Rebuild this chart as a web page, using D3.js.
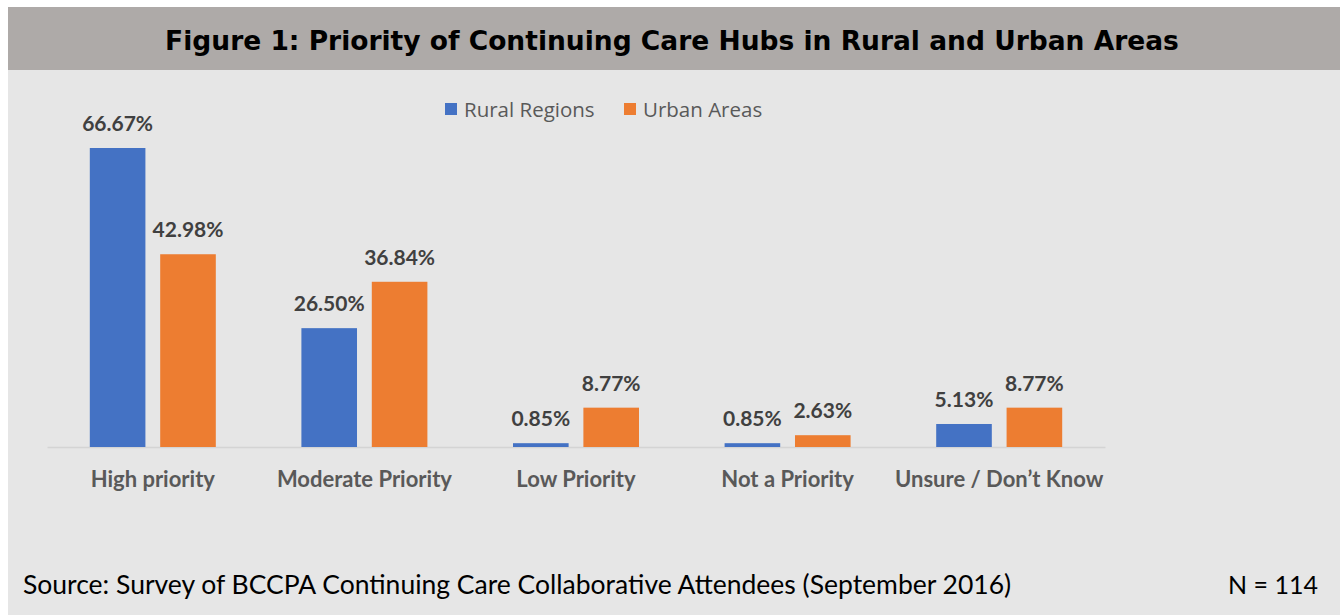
<!DOCTYPE html>
<html>
<head>
<meta charset="utf-8">
<script src="https://cdn.jsdelivr.net/npm/d3@7"></script>
<style>
  body { margin: 0; background: #fff; }
</style>
</head>
<body>
<svg id="chart"></svg>
<script>
var width = 1340;
var height = 615;

var categories = ['High priority', 'Moderate Priority', 'Low Priority', 'Not a Priority', 'Unsure / Don\u2019t Know'];
var seriesNames = ['Rural Regions', 'Urban Areas'];
var rural = [66.67, 26.50, 0.85, 0.85, 5.13];
var urban = [42.98, 36.84, 8.77, 2.63, 8.77];
var colors = ['#4472c4', '#ed7d31'];

var svg = d3.select('#chart')
  .attr('width', width)
  .attr('height', height);

// panel + header
svg.append('rect')
  .attr('x', 8).attr('y', 7)
  .attr('width', width - 8).attr('height', height - 7)
  .attr('fill', '#e6e6e6');

svg.append('rect')
  .attr('x', 8).attr('y', 7)
  .attr('width', width - 8).attr('height', 63)
  .attr('fill', '#aeaaa8');

svg.append('text')
  .attr('x', 672)
  .attr('y', 50)
  .attr('text-anchor', 'middle')
  .style('font-family', 'DejaVu Sans')
  .style('font-weight', 'bold')
  .style('font-size', '26.5px')
  .attr('fill', '#000')
  .text('Figure 1: Priority of Continuing Care Hubs in Rural and Urban Areas');

var baseline = 447;

var x0 = d3.scaleBand()
  .domain(categories)
  .range([47, 1105]);

var x1 = d3.scaleBand()
  .domain(seriesNames)
  .range([x0.bandwidth() / 2 - 63, x0.bandwidth() / 2 + 63])
  .paddingInner(0.21);

var y = d3.scaleLinear()
  .domain([0, 66.67])
  .range([baseline, 148]);

var data = categories.map((c, i) => ({
  category: c,
  values: [
    { series: seriesNames[0], value: rural[i] },
    { series: seriesNames[1], value: urban[i] }
  ]
}));

// axis
svg.append('g')
  .attr('transform', 'translate(0,' + baseline + ')')
  .call(d3.axisBottom(x0).tickSize(0).tickPadding(24))
  .call(g => g.select('.domain').attr('stroke', '#d4d4d4').attr('stroke-width', 1.5))
  .selectAll('text')
  .attr('dy', '0.71em')
  .style('font-family', 'Lato')
  .style('font-weight', 'bold')
  .style('font-size', '22px')
  .attr('fill', '#595959');

var groups = svg.selectAll('.group')
  .data(data)
  .enter()
  .append('g')
  .attr('class', 'group')
  .attr('transform', d => 'translate(' + x0(d.category) + ',0)');

groups.selectAll('rect')
  .data(d => d.values)
  .enter()
  .append('rect')
  .attr('x', d => x1(d.series))
  .attr('y', d => y(d.value))
  .attr('width', x1.bandwidth())
  .attr('height', d => baseline - y(d.value))
  .attr('fill', (d, i) => colors[i]);

groups.selectAll('.val')
  .data(d => d.values)
  .enter()
  .append('text')
  .attr('class', 'val')
  .attr('x', d => x1(d.series) + x1.bandwidth() / 2)
  .attr('y', d => y(d.value) - 17)
  .attr('text-anchor', 'middle')
  .style('font-family', 'Lato')
  .style('font-weight', 'bold')
  .style('font-size', '21px')
  .attr('fill', '#404040')
  .text(d => d.value.toFixed(2) + '%');

// legend
var legendX = [445, 624];
var legend = svg.selectAll('.legend')
  .data(seriesNames)
  .enter()
  .append('g')
  .attr('class', 'legend')
  .attr('transform', (d, i) => 'translate(' + legendX[i] + ',103)');

legend.append('rect')
  .attr('width', 12).attr('height', 12)
  .attr('fill', (d, i) => colors[i]);

legend.append('text')
  .attr('x', 19)
  .attr('y', 14)
  .style('font-family', 'Open Sans')
  .style('font-size', '20.5px')
  .attr('fill', '#595959')
  .text(d => d);

// footer
svg.append('text')
  .attr('x', 23)
  .attr('y', 594)
  .style('font-family', 'Lato')
  .style('font-size', '26.5px')
  .attr('fill', '#000')
  .text('Source: Survey of BCCPA Continuing Care Collaborative Attendees (September 2016)');

svg.append('text')
  .attr('x', 1318)
  .attr('y', 594)
  .attr('text-anchor', 'end')
  .style('font-family', 'Lato')
  .style('font-size', '25px')
  .attr('fill', '#000')
  .text('N = 114');
</script>
</body>
</html>
